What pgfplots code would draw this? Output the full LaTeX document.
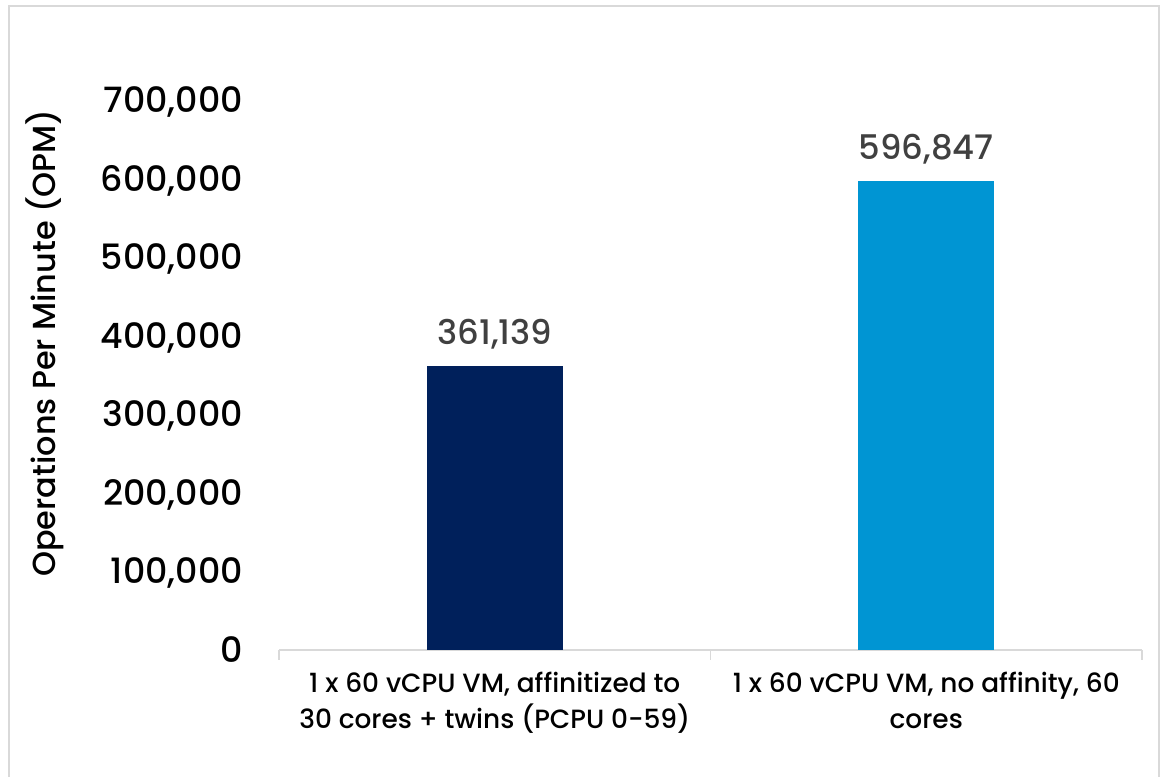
\documentclass[border=0pt]{standalone}
\usepackage{pgfplots}
\pgfplotsset{compat=1.18}
\usepackage{fontspec}
\setmainfont{Poppins}[UprightFont=* Medium]
\definecolor{navy}{HTML}{00205B}
\definecolor{vblue}{HTML}{0095D3}
\definecolor{framegray}{HTML}{D9D9D9}
\definecolor{valgray}{HTML}{404040}
\begin{document}
\begin{tikzpicture}
\useasboundingbox (0bp,0bp) rectangle (1165bp,777bp);
\draw[framegray, line width=1.5bp] (9bp,-10bp) rectangle (1159bp,771bp);
\begin{axis}[
  at={(279bp,127bp)}, anchor=south west,
  width=863bp, height=550bp, scale only axis,
  xmin=-0.5, xmax=1.5, ymin=0, ymax=700000,
  axis x line*=bottom, axis y line*=left,
  x axis line style={framegray, line width=1.5bp},
  y axis line style={draw=none},
  ytick={0,100000,200000,300000,400000,500000,600000,700000},
  scaled y ticks=false,
  major tick length=0pt,
  yticklabel style={font=\fontsize{35}{40}\selectfont, anchor=base east, inner sep=0pt, xshift=-36bp, yshift=-12.5bp,
    /pgf/number format/.cd, fixed, 1000 sep={,}, assume math mode=true},
  xtick={0,1},
  xticklabels={{1 x 60 vCPU VM, affinitized to\\30 cores + twins (PCPU 0-59)},{1 x 60 vCPU VM, no affinity, 60\\cores}},
  xticklabel style={align=center, font=\fontsize{26.5}{36}\selectfont, anchor=north, inner sep=0pt, yshift=-22bp},
  minor xtick={-0.5,0.5,1.5},
  minor tick length=10bp, tick align=outside,
  minor tick style={framegray, line width=1.5bp},
  ylabel={Operations Per Minute (OPM)},
  ylabel style={at={(axis description cs:-0.271,0.558)}, anchor=center, font=\fontsize{32}{36}\selectfont},
  nodes near coords,
  nodes near coords style={font=\fontsize{34}{38}\selectfont, color=valgray, anchor=base, inner sep=0pt, yshift=22bp,
    /pgf/number format/.cd, fixed, 1000 sep={,}, assume math mode=true},
  clip=false,
]
\addplot[ybar, bar shift=0pt, bar width=136bp, fill=navy, draw=none] coordinates {(0,361139)};
\addplot[ybar, bar shift=0pt, bar width=136bp, fill=vblue, draw=none] coordinates {(1,596847)};
\end{axis}
\end{tikzpicture}
\end{document}
